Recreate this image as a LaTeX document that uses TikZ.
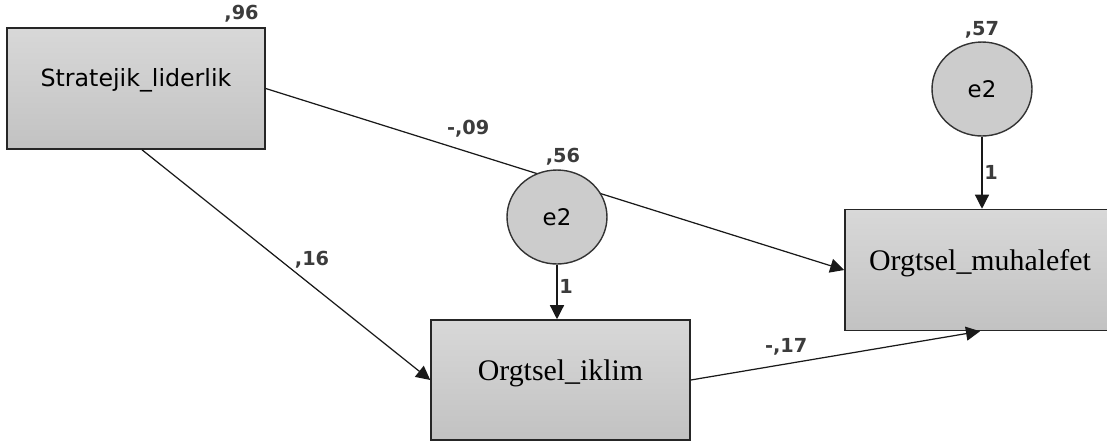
\documentclass[tikz,border=0pt]{standalone}
\usepackage{fontspec}
\setmainfont{Liberation Serif}
\newfontfamily\amosfont{DejaVu Sans}
\usetikzlibrary{arrows.meta,shapes.geometric}
\definecolor{boxtop}{HTML}{D8D8D8}
\definecolor{boxbot}{HTML}{C2C2C2}
\definecolor{errfill}{HTML}{CCCCCC}
\definecolor{coefgray}{HTML}{3C3C3C}
\begin{document}
\begin{tikzpicture}[x=0.02cm, y=-0.02cm,
  obs/.style = {shape=rectangle, draw=black!85, line width=0.9pt,
    top color=boxtop, bottom color=boxbot},
  err/.style = {shape=ellipse, draw=black!80, line width=0.8pt, fill=errfill,
    minimum width=2cm, minimum height=1.88cm, inner sep=0pt,
    font=\amosfont\fontsize{13}{15}\selectfont},
  path/.style = {draw=black!90, line width=0.7pt, -{Triangle[length=0.28cm, width=0.28cm]}},
  coef/.style = {text=coefgray, inner sep=1pt, font=\amosfont\bfseries\fontsize{11}{13}\selectfont}]
  \useasboundingbox (0,0) rectangle (1107,441);
  % observed variables
  \node[obs, minimum width=5.16cm, minimum height=2.42cm, text height=0.35cm, text depth=0.42cm,
    font=\amosfont\fontsize{13.5}{16}\selectfont] (strat) at (136,88.5) {Stratejik\_liderlik};
  \node[obs, minimum width=5.18cm, minimum height=2.4cm, text height=0.5cm, text depth=0.5cm,
    font=\fontsize{17}{20}\selectfont] (iklim) at (560.5,380) {Orgtsel\_iklim};
  \node[obs, minimum width=5.4cm, minimum height=2.42cm, text height=0.45cm, text depth=0.45cm,
    font=\fontsize{17}{20}\selectfont] (muh) at (980,270) {Orgtsel\_muhalefet};
  \node[coef, anchor=south east] at ([xshift=-0.1cm, yshift=0.06cm]strat.north east) {,96};
  % regression paths
  \draw[path] (strat.east) -- node[coef, pos=0.35, above=0.25cm] {-,09} (muh.west);
  \draw[path] ([xshift=0.12cm]strat.south) -- node[coef, pos=0.59, above=0.3cm] {,16} (iklim.west);
  \draw[path] (iklim.east) -- node[coef, pos=0.33, above=0.12cm] {-,17} (muh.south);
  % error terms
  \node[err] (e2a) at (557,217) {e2};
  \node[coef, anchor=south, xshift=0.12cm, yshift=0.04cm] at (e2a.north) {,56};
  \node[err] (e2b) at (982,89) {e2};
  \node[coef, anchor=south, yshift=0.02cm] at (e2b.north) {,57};
  \draw[path] (e2a.south) -- node[coef, right, pos=0.4] {1} (e2a.south |- iklim.north);
  \draw[path] (e2b.south) -- node[coef, right, pos=0.5] {1} (e2b.south |- muh.north);
\end{tikzpicture}
\end{document}
